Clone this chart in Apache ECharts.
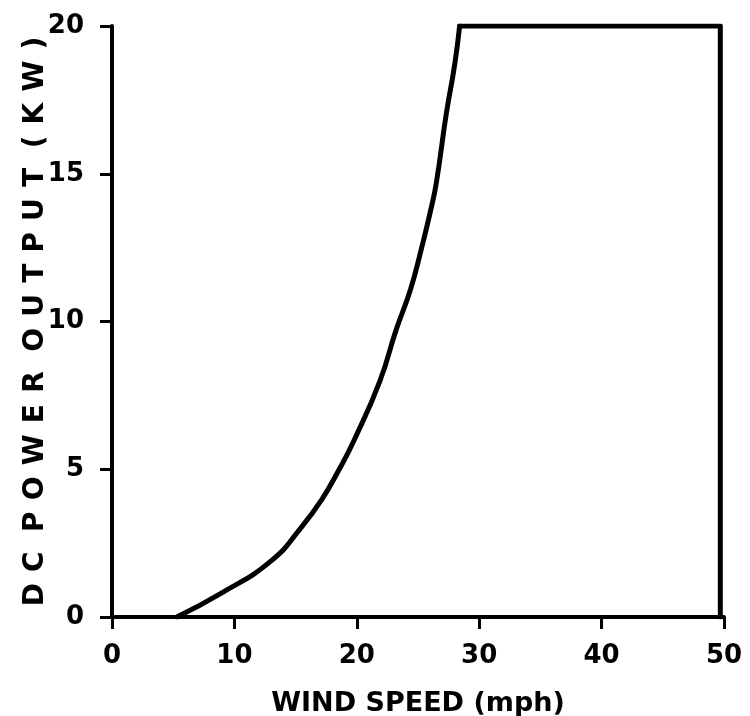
<!DOCTYPE html>
<html>
<head>
<meta charset="utf-8">
<script src="https://cdn.jsdelivr.net/npm/echarts@6/dist/echarts.min.js"></script>
<style>
  html, body { margin: 0; padding: 0; background: #fff; }
  #main { width: 750px; height: 716px; }
</style>
</head>
<body>
<div id="main"></div>
<script>
// wind speed (mph) vs DC power output (kW)
// rising part of the curve
const curveSpeed = [5.3, 8.9, 13.0, 15.5, 17.1, 18.5, 19.8, 21.9, 23.2, 24.4, 25.3, 26.0, 26.5, 27.3, 28.0, 28.4]
const curvePower = [0, 0.8, 1.9, 3.05, 3.95, 4.95, 6.0, 8.0, 9.7, 11.1, 12.5, 13.7, 14.7, 17.0, 18.7, 20]
// rated output, then cut-out
const ratedSpeed = [28.4, 49.7, 49.7]
const ratedPower = [20, 20, 0]
const xTicks = [0, 10, 20, 30, 40, 50]
const yTicks = [0, 5, 10, 15, 20]

const xName = 'WIND SPEED (mph)'
const yName = 'DC POWER OUTPUT (KW)'

const font = 'DejaVu Sans'
// wide letter spacing like the original lettering
const spaced = (s) => s.split(' ').map(w => w.split('').join('\u2009\u2009')).join('  ')

const chart = echarts.init(document.getElementById('main'), null, { renderer: 'canvas' })

const axisCommon = {
  type: 'value',
  axisLine: { show: true, lineStyle: { color: '#000', width: 4 } },
  axisTick: { show: true, inside: false, length: 12, lineStyle: { color: '#000', width: 3 } },
  splitLine: { show: false },
  axisLabel: { color: '#000', fontFamily: font, fontWeight: 'bold', fontSize: 26 },
  nameTextStyle: { color: '#000', fontFamily: font, fontWeight: 'bold', fontSize: 28 },
  nameMoveOverlap: false
}

const lineStyle = { color: '#000', width: 5, join: 'round', cap: 'round' }

chart.setOption({
  animation: false,
  backgroundColor: '#fff',
  grid: { left: 112, right: 26, top: 26, bottom: 99, containLabel: false, outerBoundsMode: 'none' },
  xAxis: Object.assign({}, axisCommon, {
    min: xTicks[0],
    max: xTicks[xTicks.length - 1],
    interval: xTicks[1] - xTicks[0],
    axisLabel: Object.assign({}, axisCommon.axisLabel, { margin: 26 }),
    name: xName,
    nameLocation: 'middle',
    nameGap: 73,
    nameTextStyle: Object.assign({}, axisCommon.nameTextStyle, { fontSize: 27 })
  }),
  yAxis: Object.assign({}, axisCommon, {
    min: yTicks[0],
    max: yTicks[yTicks.length - 1],
    interval: yTicks[1] - yTicks[0],
    axisLabel: Object.assign({}, axisCommon.axisLabel, { margin: 28 }),
    name: spaced(yName),
    nameLocation: 'middle',
    nameRotate: 90,
    nameGap: 62
  }),
  series: [
    {
      type: 'line',
      data: curveSpeed.map((x, i) => [x, curvePower[i]]),
      symbol: 'none',
      smooth: 0.5,
      lineStyle: lineStyle
    },
    {
      type: 'line',
      data: ratedSpeed.map((x, i) => [x, ratedPower[i]]),
      symbol: 'none',
      lineStyle: lineStyle
    }
  ]
})
</script>
</body>
</html>
